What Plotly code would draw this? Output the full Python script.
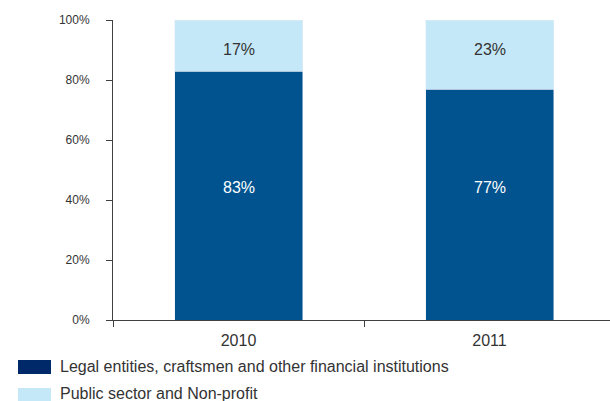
import plotly.graph_objects as go

# Data
years = ["2010", "2011"]
legal_share = [83, 77]        # Legal entities, craftsmen and other financial institutions
public_share = [17, 23]       # Public sector and Non-profit
series_names = [
    "Legal entities, craftsmen and other financial institutions",
    "Public sector and Non-profit",
]
y_ticks = [0, 20, 40, 60, 80, 100]

DARK = "#00538F"
LIGHT = "#C5E8F8"
LEGEND_DARK = "#00296A"
TEXT = "#333333"
AXIS = "#404040"
FONT = "Liberation Sans, Arial, sans-serif"

fig = go.Figure()
fig.add_bar(x=years, y=legal_share, name=series_names[0], marker_color=DARK,
            width=0.51, showlegend=False)
fig.add_bar(x=years, y=public_share, name=series_names[1], marker_color=LIGHT,
            width=0.51, showlegend=False)

# Value labels (category index positions)
for i, v in enumerate(legal_share):
    fig.add_annotation(x=i, y=44.2, xref="x", yref="y", text=f"{v}%",
                       showarrow=False,
                       font=dict(family=FONT, size=16, color="white"))
for i, v in enumerate(public_share):
    fig.add_annotation(x=i, y=90.3, xref="x", yref="y", text=f"{v}%",
                       showarrow=False,
                       font=dict(family=FONT, size=16, color=TEXT))

# Legend drawn below the axis
W_PLOT = 497.0
H_PLOT = 300.0
X0 = 113.0
Y0 = 320.0


def px_x(x):
    return (x - X0) / W_PLOT


def px_y(y):
    return (Y0 - y) / H_PLOT


legend_rows = [(series_names[0], LEGEND_DARK, 360, 374, 366.5),
               (series_names[1], LIGHT, 388, 402, 393.5)]
for name, col, top, bot, mid in legend_rows:
    fig.add_shape(type="rect", xref="paper", yref="paper",
                  x0=px_x(18), x1=px_x(51), y0=px_y(bot), y1=px_y(top),
                  fillcolor=col, line_width=0, layer="above")
    fig.add_annotation(xref="paper", yref="paper", x=px_x(58), y=px_y(mid),
                       xanchor="left", yanchor="middle", text=name,
                       showarrow=False,
                       font=dict(family=FONT, size=16, color=TEXT))

fig.update_layout(
    barmode="stack",
    width=610, height=401,
    margin=dict(l=113, r=0, t=20, b=81),
    plot_bgcolor="white", paper_bgcolor="white",
    font=dict(family=FONT, color=TEXT),
)
fig.update_xaxes(
    type="category", range=[-0.5, 1.48],
    showline=True, linecolor=AXIS, linewidth=1,
    ticks="outside", tickson="boundaries", ticklen=6, tickcolor=AXIS,
    tickfont=dict(size=16, color=TEXT), ticklabelstandoff=6,
    showgrid=False, zeroline=False,
)
fig.update_yaxes(
    range=[0, 100], tickvals=y_ticks, ticktext=[f"{t}%" for t in y_ticks],
    showline=True, linecolor=AXIS, linewidth=1,
    ticks="outside", ticklen=6, tickcolor=AXIS,
    tickfont=dict(size=12, color=TEXT), ticklabelstandoff=14,
    showgrid=False, zeroline=False,
)

fig.write_html("out.html")
